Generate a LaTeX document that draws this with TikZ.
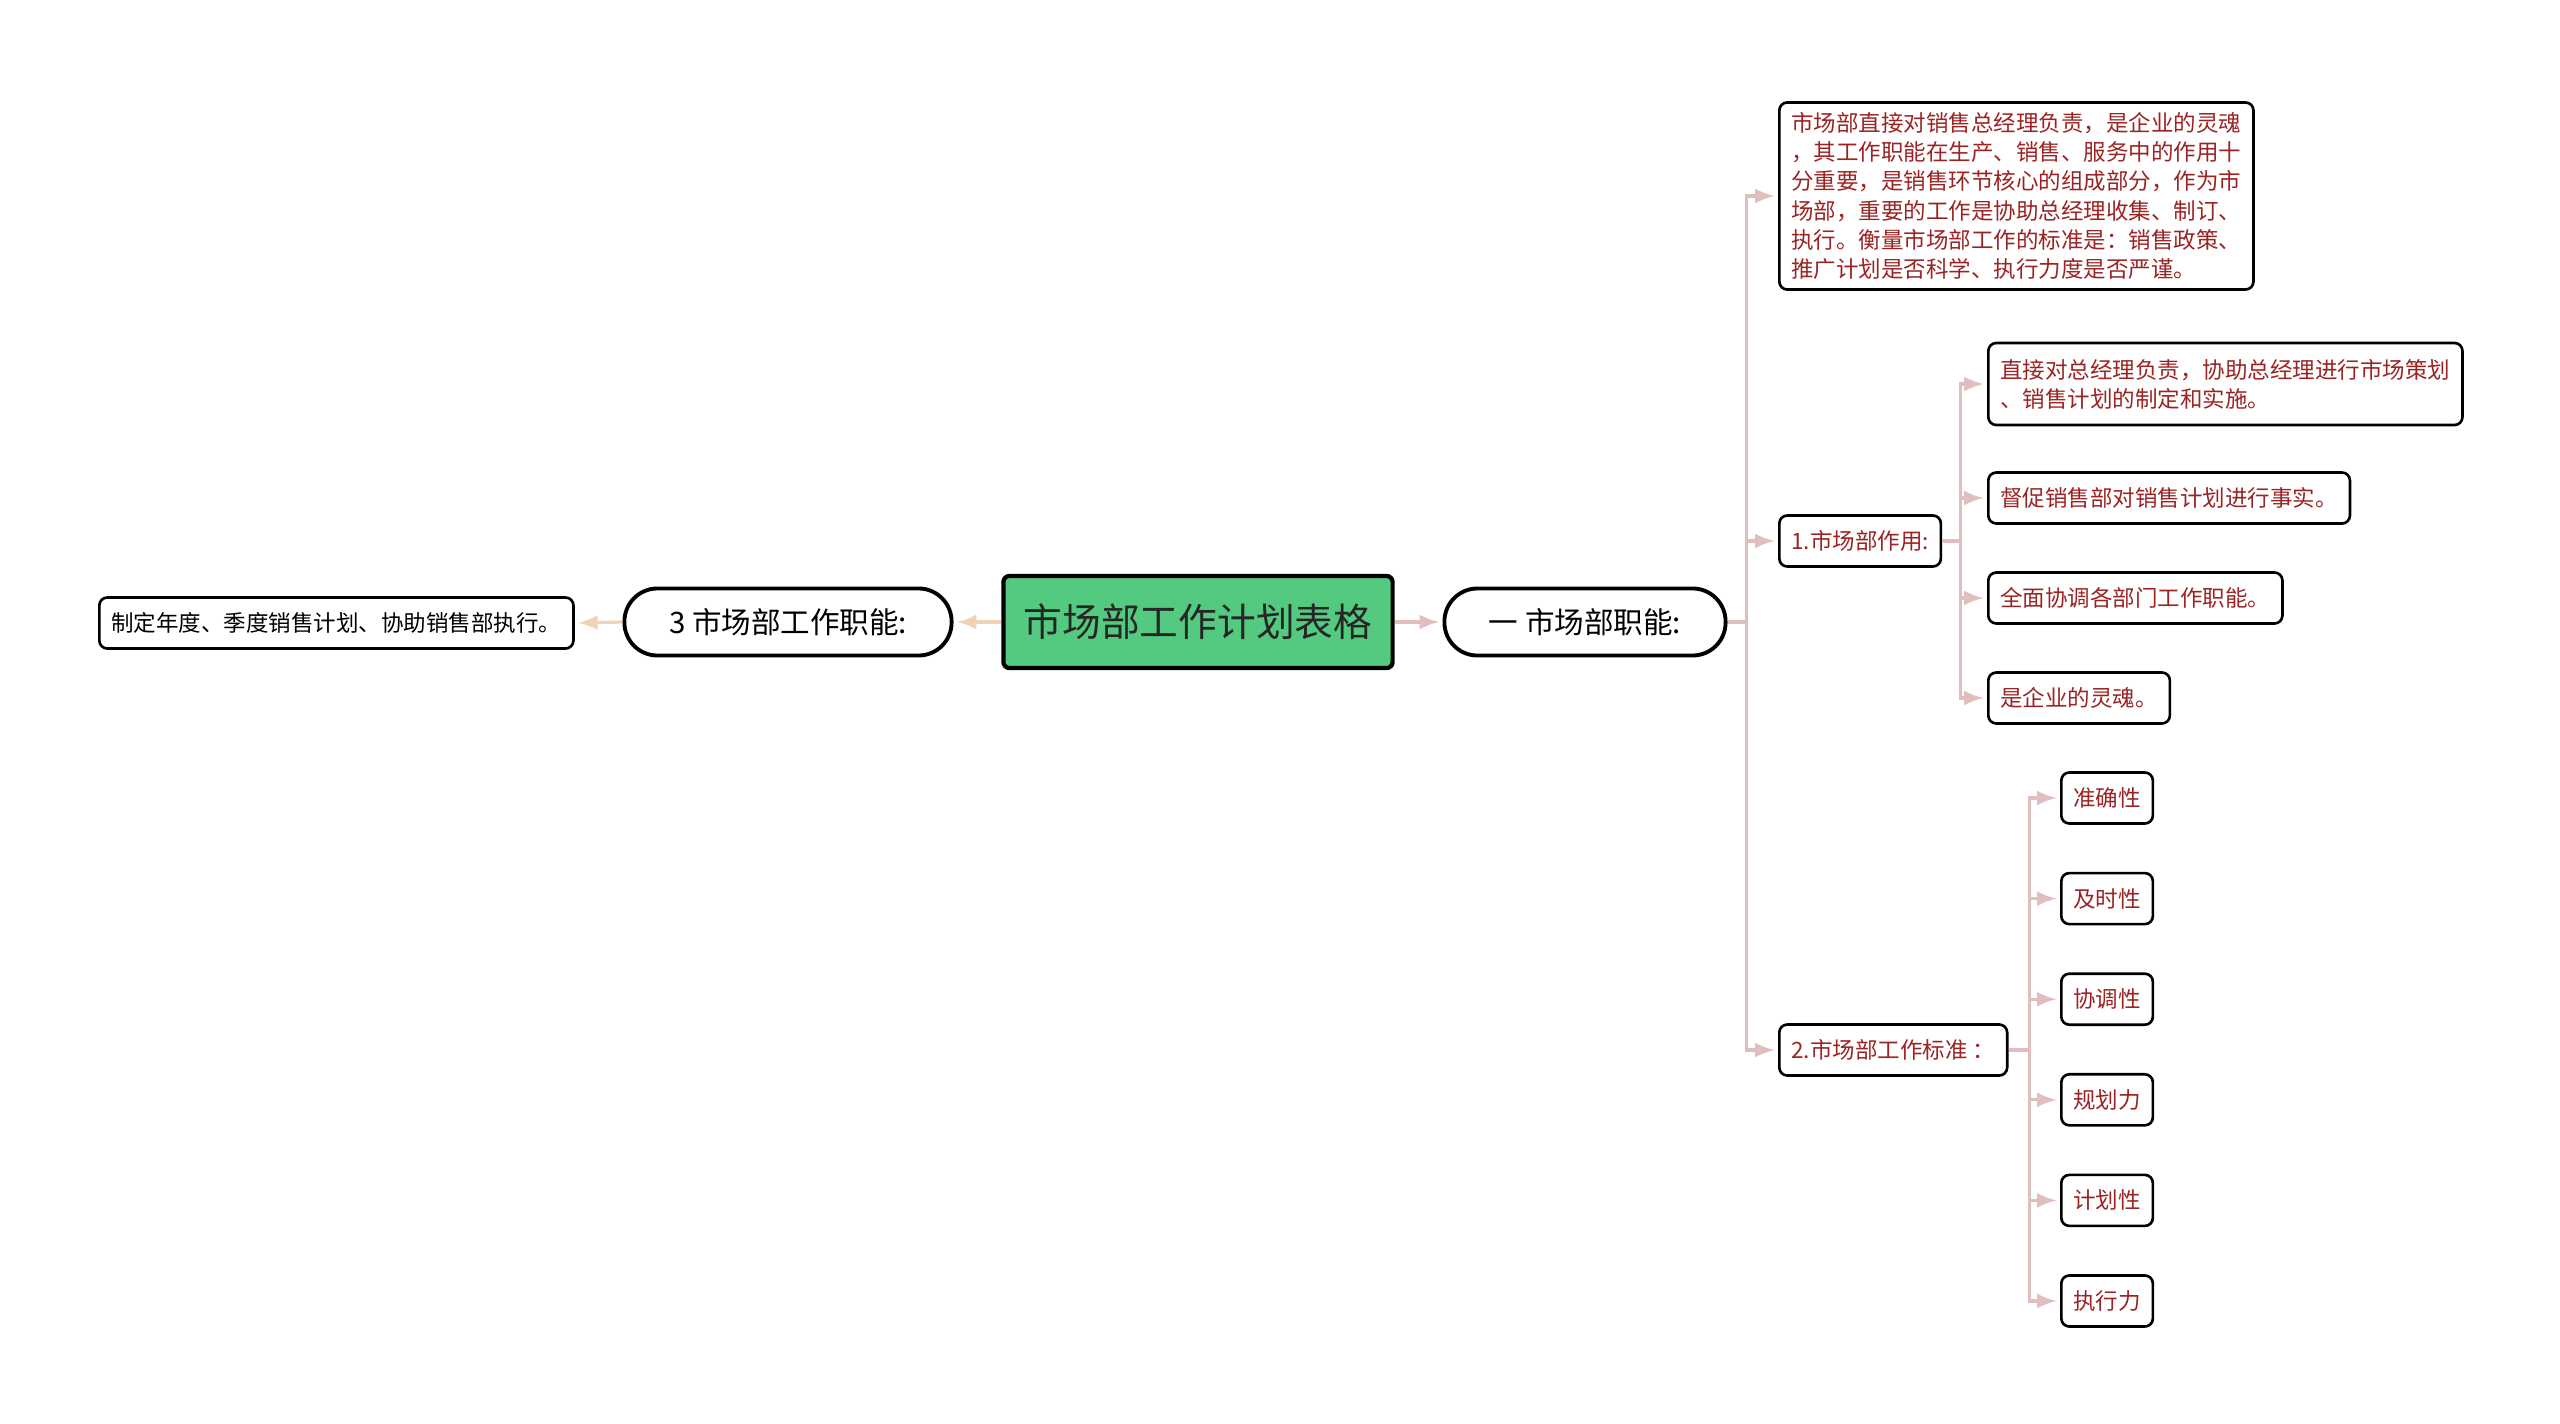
\documentclass[tikz,border=0pt]{standalone}
\usepackage{fontspec}
\setmainfont{Noto Sans CJK SC}
\usepackage{xcolor}
\usetikzlibrary{arrows}
\definecolor{qgreen}{RGB}{84,201,128}
\definecolor{qred}{RGB}{155,35,35}
\definecolor{qpink}{RGB}{225,190,190}
\definecolor{qtan}{RGB}{240,210,180}

\tikzset{
  leaf/.style={draw, rounded corners=0.08cm, line width=0.75pt, text=qred,
    font=\fontsize{6.4}{8.3}\selectfont, inner xsep=0.12cm, inner ysep=0pt,
    minimum height=0.51cm, anchor=west},
  pill/.style={draw, rounded corners=0.33cm, line width=1.1pt,
    font=\fontsize{8.4}{10}\selectfont, minimum height=0.67cm},
  link/.style={-latex, line width=0.9pt, color=qpink, shorten >=1pt},
}

\begin{document}
\begin{tikzpicture}[x=0.01cm,y=-0.01cm]
\useasboundingbox (0,0) rectangle (2560,1424);

%Centre:
\node[draw, fill=qgreen, rounded corners=0.06cm, line width=1.2pt, minimum width=3.89cm,
  minimum height=0.92cm, font=\fontsize{11}{13}\selectfont, text=black!85] (root) at (1198,622) {市场部工作计划表格};

%Left side:
\node[pill, minimum width=3.27cm] (gongneng) at (788,622) {3 市场部工作职能:};
\node[leaf, text=black] (zhiding) at (98,623) {制定年度、季度销售计划、协助销售部执行。};
\draw[link, color=qtan] (root.west) -- (gongneng.east);
\draw[link, color=qtan] (gongneng.west) -- (zhiding.east);

%Right side:
\node[pill, minimum width=2.81cm] (zhineng) at (1585,622) {一 市场部职能:};
\draw[link] (root.east) -- (zhineng.west);

\node[leaf, align=left, inner ysep=0.1cm] (duty) at (1778,196) {市场部直接对销售总经理负责，是企业的灵魂\\
，其工作职能在生产、销售、服务中的作用十\\
分重要，是销售环节核心的组成部分，作为市\\
场部，重要的工作是协助总经理收集、制订、\\
执行。衡量市场部工作的标准是：销售政策、\\
推广计划是否科学、执行力度是否严谨。};
\node[leaf] (zuoyong) at (1778,541) {1.市场部作用:};
\node[leaf] (biaozhun) at (1778,1050) {2.市场部工作标准 ：};
\foreach \n in {duty,zuoyong,biaozhun}
  \draw[link] (zhineng.east) -- ++(19,0) |- (\n.west);

%1.
\node[leaf, align=left, minimum height=0.82cm] (z1) at (1987,384) {直接对总经理负责，协助总经理进行市场策划\\
、销售计划的制定和实施。};
\node[leaf] (z2) at (1987,498) {督促销售部对销售计划进行事实。};
\node[leaf] (z3) at (1987,598) {全面协调各部门工作职能。};
\node[leaf] (z4) at (1987,698) {是企业的灵魂。};
\foreach \n in {z1,z2,z3,z4}
  \draw[link] (zuoyong.east) -- ++(18,0) |- (\n.west);

%2.
\foreach \t [count=\i] in {准确性,及时性,协调性,规划力,计划性,执行力}{
  \node[leaf] (b\i) at (2060,{798+100.6*(\i-1)}) {\t};
  \draw[link] (biaozhun.east) -- ++(21,0) |- (b\i.west);
}

\end{tikzpicture}
\end{document}
